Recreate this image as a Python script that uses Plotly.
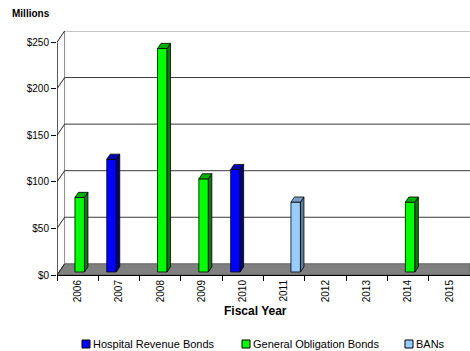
import plotly.graph_objects as go

# ---------------- data ----------------
years = ["2006", "2007", "2008", "2009", "2010", "2011", "2012", "2013", "2014", "2015"]
hospital_revenue = [None, 121, None, None, 110, None, None, None, None, None]
general_obligation = [80, None, 240, 100, None, None, None, None, 75, None]
bans = [None, None, None, None, None, 75, None, None, None, None]
y_ticks = [0, 50, 100, 150, 200, 250]

series_names = ["Hospital Revenue Bonds", "General Obligation Bonds", "BANs"]
series_values = [hospital_revenue, general_obligation, bans]
front_colors = ["#0000FF", "#00FF00", "#99CCFF"]
side_colors = ["#000080", "#008000", "#5F7F9F"]
top_colors = ["#0000B0", "#00B000", "#7A9FC8"]

# ---------------- 3-D geometry (layout constants) ----------------
X0, X1 = -0.5, 9.5
YTOP = 262
DX, DY = 0.184, 12          # wall depth offset in data units
F0, FD = 0.27, 0.46         # bar front depth fraction, bar depth fraction
BW = 0.23                   # bar width
SLOT = 0.23                 # slot spacing

FONT = "Liberation Sans, Arial, sans-serif"

fig = go.Figure()
shapes = []

# floor
shapes.append(dict(type="path", layer="below",
                   path=f"M {X0},0 L {X1},0 L {X1},{DY} L {X0+DX},{DY} Z",
                   fillcolor="#808080", line=dict(color="#606060", width=1),
                   xref="x", yref="y"))
# back wall left edge
shapes.append(dict(type="line", layer="below", x0=X0 + DX, x1=X0 + DX, y0=DY, y1=YTOP,
                   xref="x", yref="y", line=dict(color="#8a8a8a", width=1)))
# gridlines on back wall and diagonals on side wall
for v in y_ticks:
    if v > 0:
        shapes.append(dict(type="line", layer="below", x0=X0 + DX, x1=X1, y0=v + DY, y1=v + DY,
                           xref="x", yref="y",
                           line=dict(color="#8a8a8a" if v == 250 else "#3a3a3a", width=1)))
    shapes.append(dict(type="line", layer="below", x0=X0, x1=X0 + DX, y0=v, y1=v + DY,
                       xref="x", yref="y", line=dict(color="#222222", width=1)))
# front value axis line
shapes.append(dict(type="line", layer="above", x0=X0, x1=X0, y0=0, y1=250,
                   xref="x", yref="y", line=dict(color="#222222", width=1.5)))

base = F0 * DY
sdx, sdy = FD * DX, FD * DY
for s, (name, vals) in enumerate(zip(series_names, series_values)):
    xs, ys = [], []
    for i, v in enumerate(vals):
        if v is None:
            continue
        xc = i + (s - 1) * SLOT + F0 * DX
        xs.append(xc)
        ys.append(v)
        xl, xr = xc - BW / 2, xc + BW / 2
        top = base + v
        # side face
        fig.add_trace(go.Scatter(x=[xr, xr + sdx, xr + sdx, xr, xr],
                                 y=[base, base + sdy, top + sdy, top, base],
                                 fill="toself", fillcolor=side_colors[s], mode="lines",
                                 line=dict(color="black", width=0.8), hoverinfo="skip",
                                 showlegend=False))
        # top face
        fig.add_trace(go.Scatter(x=[xl, xr, xr + sdx, xl + sdx, xl],
                                 y=[top, top, top + sdy, top + sdy, top],
                                 fill="toself", fillcolor=top_colors[s], mode="lines",
                                 line=dict(color="black", width=0.8), hoverinfo="skip",
                                 showlegend=False))
    fig.add_trace(go.Bar(x=xs, y=ys, base=base, width=BW, name=name,
                         marker=dict(color=front_colors[s], line=dict(color="black", width=0.8)),
                         showlegend=False))

# ---------------- legend (manual) ----------------
PL, PT, PW, PH = 57, 31, 413, 244


def px2paper(px, py):
    return (px - PL) / PW, (PT + PH - py) / PH


legend_items = [(82, 91), (242, 251), (405, 414)]
annotations = []
for s, (sx, tx) in enumerate(legend_items):
    x0, y0 = px2paper(sx, 348)
    x1, y1 = px2paper(sx + 8, 340)
    shapes.append(dict(type="rect", xref="paper", yref="paper", x0=x0, x1=x1, y0=y0, y1=y1,
                       fillcolor=front_colors[s], line=dict(color="black", width=1)))
    ax, ay = px2paper(tx, 344)
    annotations.append(dict(text=series_names[s], xref="paper", yref="paper", x=ax, y=ay,
                            xanchor="left", yanchor="middle", showarrow=False,
                            font=dict(size=11, color="black", family=FONT)))

mx, my = px2paper(10, 13)
annotations.append(dict(text="<b>Millions</b>", xref="paper", yref="paper", x=mx, y=my,
                        xanchor="left", yanchor="middle", showarrow=False,
                        font=dict(size=10, color="black", family=FONT)))
fx, fy = px2paper(255, 311)
annotations.append(dict(text="<b>Fiscal Year</b>", xref="paper", yref="paper", x=fx, y=fy,
                        xanchor="center", yanchor="middle", showarrow=False,
                        font=dict(size=12, color="black", family=FONT)))

fig.update_layout(
    width=470, height=351,
    margin=dict(l=PL, r=0, t=PT, b=351 - PT - PH),
    plot_bgcolor="white", paper_bgcolor="white",
    showlegend=False, barmode="overlay",
    shapes=shapes, annotations=annotations,
    font=dict(family=FONT, size=10, color="black"),
    xaxis=dict(range=[X0, X1], tickmode="array", tickvals=list(range(len(years))), ticktext=years,
               tickangle=-90, ticks="", showgrid=False, zeroline=False,
               showline=True, linecolor="black", linewidth=1,
               minor=dict(tickmode="array", tickvals=[i - 0.5 for i in range(len(years) + 1)],
                          ticks="outside", ticklen=5, tickcolor="black", showgrid=False),
               tickfont=dict(size=10, family=FONT, color="black"), fixedrange=True),
    yaxis=dict(range=[0, YTOP], tickmode="array", tickvals=y_ticks,
               ticktext=[f"${v}" for v in y_ticks], ticks="outside", ticklen=5,
               tickcolor="black", showgrid=False, zeroline=False, showline=False,
               tickfont=dict(size=10, family=FONT, color="black"), fixedrange=True),
)

fig.write_html("out.html")
